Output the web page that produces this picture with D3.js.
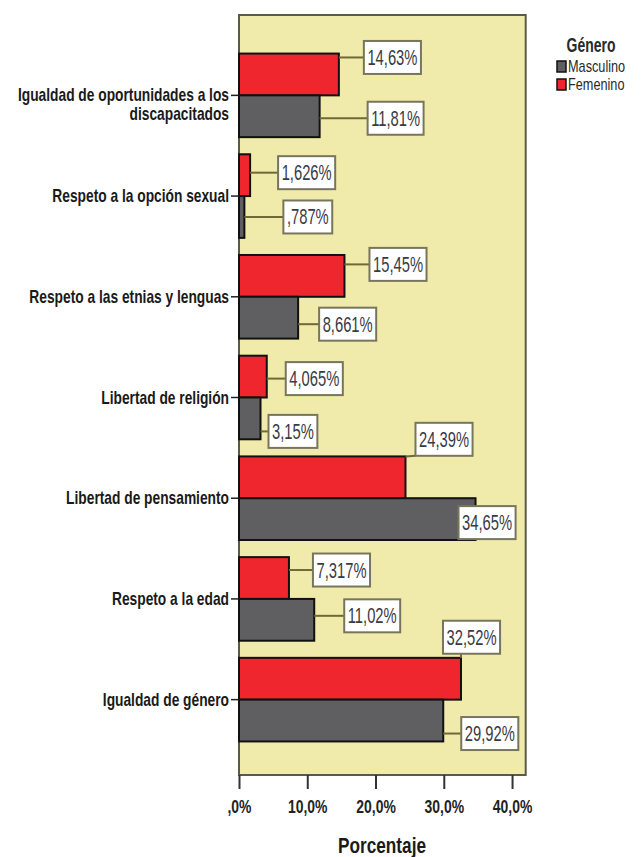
<!DOCTYPE html>
<html><head><meta charset="utf-8">
<script src="https://cdn.jsdelivr.net/npm/d3@7"></script>
<style>body{margin:0;background:#fff}svg{display:block}</style>
</head><body>
<svg id="c" width="641" height="857"></svg>
<script>
// ---- data ----
const categories = [
  "Igualdad de oportunidades a los discapacitados",
  "Respeto a la opción sexual",
  "Respeto a las etnias y lenguas",
  "Libertad de religión",
  "Libertad de pensamiento",
  "Respeto a la edad",
  "Igualdad de género"
];
const categoryLines = [
  ["Igualdad de oportunidades a los", "discapacitados"],
  ["Respeto a la opción sexual"],
  ["Respeto a las etnias y lenguas"],
  ["Libertad de religión"],
  ["Libertad de pensamiento"],
  ["Respeto a la edad"],
  ["Igualdad de género"]
];
const seriesNames = ["Masculino", "Femenino"];
const masculino = [11.81, 0.787, 8.661, 3.15, 34.65, 11.02, 29.92];
const femenino  = [14.63, 1.626, 15.45, 4.065, 24.39, 7.317, 32.52];
const masculinoLabels = ["11,81%", ",787%", "8,661%", "3,15%", "34,65%", "11,02%", "29,92%"];
const femeninoLabels  = ["14,63%", "1,626%", "15,45%", "4,065%", "24,39%", "7,317%", "32,52%"];
const tickValues = [0, 10, 20, 30, 40];
const tickLabels = [",0%", "10,0%", "20,0%", "30,0%", "40,0%"];
const legendTitle = "Género";
const axisTitle = "Porcentaje";

// ---- layout (label placement offsets: [dx from bar end, dy from bar centre]) ----
const femShift  = [[25,-17],[28,-2.5],[25,-11.5],[19,2],[10,-38],[24,-8],[-18,-41.5]];
const mascShift = [[48,2],[39,0],[21,6.5],[8,13],[-17,3.5],[30,-4],[18,13]];

const colors = {Masculino:"#5f5f61", Femenino:"#f0262e"};
const plot = {left:239, right:525.7, top:15, bottom:775};
const FONT = "'Liberation Sans', Arial, sans-serif";

const svg = d3.select("#c");
const x = d3.scaleLinear().domain([0, 42]).range([plot.left, plot.right]);
const y = d3.scaleBand().domain(categories).range([45, 750]).paddingInner(0.17).paddingOuter(0.085);
const sub = d3.scaleBand().domain(["Femenino","Masculino"]).range([0, y.bandwidth()]);

// plot background
svg.append("rect").attr("x", plot.left).attr("y", plot.top)
  .attr("width", plot.right - plot.left).attr("height", plot.bottom - plot.top)
  .attr("fill", "#f0eaab").attr("stroke", "#5a5a48").attr("stroke-width", 2);

// x axis ticks
const xAxis = d3.axisBottom(x).tickValues(tickValues).tickSize(14).tickFormat((d,i)=>tickLabels[i]);
const gx = svg.append("g").attr("transform", `translate(0,${plot.bottom})`).call(xAxis);
gx.select(".domain").remove();
gx.selectAll(".tick line").attr("stroke", "#333").attr("stroke-width", 2);
gx.selectAll(".tick text").attr("y", 0).attr("dy", 0)
  .attr("transform", "translate(0,38) scale(0.82,1.1)")
  .attr("font-family", FONT).attr("font-weight", "bold").attr("font-size", 17).attr("fill", "#222");

// y axis ticks + labels
const yAxis = d3.axisLeft(y).tickSize(8).tickFormat("");
const gy = svg.append("g").attr("transform", `translate(${plot.left},0)`).call(yAxis);
gy.select(".domain").remove();
gy.selectAll(".tick line").attr("stroke", "#222").attr("stroke-width", 1.5);

categories.forEach((c, i) => {
  const cy = y(c) + y.bandwidth()/2;
  const lines = categoryLines[i];
  lines.forEach((ln, k) => {
    svg.append("text")
      .attr("transform", `translate(229,${cy + 6 + k*19}) scale(0.82,1.1)`)
      .attr("text-anchor", "end").attr("font-family", FONT).attr("font-weight", "bold")
      .attr("font-size", 16.8).attr("fill", "#1a1a1a").text(ln);
  });
});

// bars
const series = [
  {name:"Femenino", values:femenino, labels:femeninoLabels, shift:femShift},
  {name:"Masculino", values:masculino, labels:masculinoLabels, shift:mascShift}
];
series.forEach(s => {
  svg.append("g").selectAll("rect").data(s.values).join("rect")
    .attr("x", x(0)).attr("y", (d,i)=>y(categories[i]) + sub(s.name))
    .attr("width", d=>x(d)-x(0)).attr("height", sub.bandwidth())
    .attr("fill", colors[s.name]).attr("stroke", "#111").attr("stroke-width", 2);
});

// value labels with leader lines
const gl = svg.append("g");
series.forEach(s => {
  s.values.forEach((v, i) => {
    const bx = x(v);
    const top = y(categories[i]) + sub(s.name);
    const bot = top + sub.bandwidth();
    const cy = (top + bot)/2;
    const [dx, dy] = s.shift[i];
    const g = gl.append("g");
    const line = g.append("line");
    const box = g.append("rect");
    const t = g.append("text").attr("font-family", FONT).attr("font-size", 18).attr("fill", "#3a3a44")
      .attr("text-anchor", "middle").text(s.labels[i]);
    const tw = t.node().getComputedTextLength() * 0.82;
    const w = tw + 7, h = 33;
    const L = bx + dx, T = cy + dy - h/2;
    const ay = Math.max(top, Math.min(bot, cy + dy));
    const ax = bx;
    const px = Math.max(L, Math.min(L + w, ax));
    const py = Math.max(T, Math.min(T + h, ay));
    line.attr("x1", ax).attr("y1", ay).attr("x2", px).attr("y2", py)
      .attr("stroke", "#6e6a36").attr("stroke-width", 2);
    box.attr("x", L).attr("y", T).attr("width", w).attr("height", h)
      .attr("fill", "#fff").attr("stroke", "#77765c").attr("stroke-width", 2);
    t.attr("transform", `translate(${L + w/2},${T + h/2 + 7.5}) scale(0.82,1.18)`);
  });
});

// axis title
svg.append("text").attr("transform", "translate(382,853) scale(0.82,1.05)")
  .attr("text-anchor", "middle").attr("font-family", FONT).attr("font-weight", "bold")
  .attr("font-size", 21).attr("fill", "#1a1a1a").text(axisTitle);

// legend
svg.append("text").attr("transform", "translate(591,52) scale(0.82,1.15)")
  .attr("text-anchor", "middle").attr("font-family", FONT).attr("font-weight", "bold")
  .attr("font-size", 17).attr("fill", "#2a2a2a").text(legendTitle);
seriesNames.forEach((n, i) => {
  const yy = 61 + i*18;
  svg.append("rect").attr("x", 557).attr("y", yy).attr("width", 9).attr("height", 11)
    .attr("fill", colors[n]).attr("stroke", "#111").attr("stroke-width", 1.5);
  svg.append("text").attr("transform", `translate(568,${yy + 10.5}) scale(0.82,1.12)`)
    .attr("font-family", FONT).attr("font-size", 15.5).attr("fill", "#2a2a2a").text(n);
});
</script>
</body></html>
